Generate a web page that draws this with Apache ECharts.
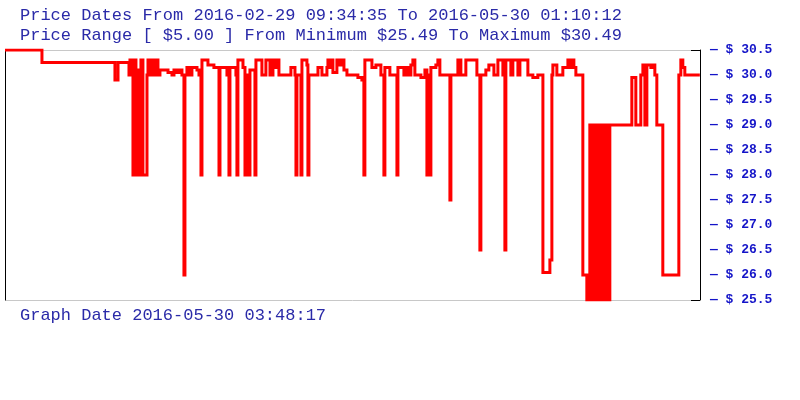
<!DOCTYPE html>
<html>
<head>
<meta charset="utf-8">
<script src="https://cdn.jsdelivr.net/npm/echarts@6/dist/echarts.min.js"></script>
<style>html,body{margin:0;padding:0;background:#fff}#c{width:800px;height:400px}</style>
</head>
<body>
<div id="c"></div>
<script>
// Days since 2016-02-29 09:34:35 at which the price changed
const dayOffsets = [
  0, 4.82, 14.34, 14.74, 16.17, 16.30, 16.56, 16.69, 16.82, 17.08,
  17.21, 17.60, 17.73, 17.99, 18.52, 18.65, 18.91, 19.04, 19.30, 19.56,
  19.95, 20.21, 21.26, 21.78, 22.04, 22.43, 22.69, 23.08, 23.34, 23.47,
  23.73, 24.12, 24.38, 25.04, 25.30, 25.56, 25.69, 26.47, 27.25, 27.91,
  28.04, 28.95, 29.21, 29.34, 30.12, 30.25, 30.38, 31.04, 31.30, 31.43,
  31.82, 31.95, 32.60, 32.73, 33.51, 34.03, 34.56, 34.95, 35.21, 35.47,
  35.73, 37.29, 37.82, 37.95, 38.08, 38.60, 38.73, 39.38, 39.51, 39.64,
  40.82, 41.34, 41.99, 42.12, 42.38, 42.51, 42.77, 43.29, 43.68, 43.94,
  44.21, 44.60, 46.03, 46.55, 46.81, 46.94, 47.86, 48.38, 49.03, 49.42,
  49.55, 50.20, 51.12, 51.25, 52.03, 52.29, 52.68, 52.94, 53.20, 53.46,
  54.25, 54.77, 55.03, 55.16, 55.42, 55.55, 56.20, 56.46, 56.72, 58.03,
  58.16, 59.07, 59.46, 60.11, 61.55, 61.94, 62.07, 62.72, 63.11, 63.77,
  64.29, 64.94, 65.20, 65.33, 65.98, 66.24, 66.90, 67.16, 68.20, 68.85,
  69.50, 70.16, 71.07, 71.33, 71.46, 71.98, 72.76, 73.42, 73.68, 73.94,
  74.20, 74.46, 75.37, 75.89, 76.28, 76.54, 76.81, 77.07, 77.33, 77.59,
  77.85, 78.11, 78.37, 78.63, 78.89, 81.76, 82.28, 82.93, 83.20, 83.46,
  83.72, 84.24, 84.50, 84.76, 85.02, 85.80, 87.89, 88.15, 88.41, 88.67,
  90.63
];
const prices = [
  30.50, 30.25, 29.90, 30.25, 30.00, 30.30, 30.00, 28.00, 30.30, 28.00,
  30.10, 28.00, 30.30, 28.00, 30.00, 30.30, 30.00, 30.30, 30.00, 30.30,
  30.00, 30.10, 30.05, 30.00, 30.10, 30.05, 30.10, 30.00, 26.00, 30.00,
  30.15, 30.00, 30.15, 30.10, 30.00, 28.00, 30.30, 30.20, 30.15, 28.00,
  30.15, 30.00, 28.00, 30.15, 30.00, 28.00, 30.30, 30.15, 28.00, 30.00,
  28.00, 30.10, 28.00, 30.30, 30.00, 30.30, 30.00, 30.30, 30.15, 30.30,
  30.00, 30.15, 30.00, 28.00, 30.00, 28.00, 30.30, 30.20, 28.00, 30.00,
  30.15, 30.00, 30.15, 30.30, 30.15, 30.30, 30.05, 30.30, 30.20, 30.30,
  30.10, 30.00, 29.95, 29.90, 28.00, 30.30, 30.15, 30.20, 30.00, 28.00,
  30.15, 30.00, 28.00, 30.15, 30.00, 30.15, 30.00, 30.20, 30.30, 30.00,
  29.95, 30.10, 28.00, 30.00, 28.00, 30.15, 30.20, 30.30, 30.00, 27.50,
  30.00, 30.30, 30.00, 30.30, 30.00, 26.50, 30.00, 30.10, 30.20, 30.00,
  30.30, 30.00, 26.50, 30.30, 30.00, 30.30, 30.00, 30.30, 30.00, 29.95,
  30.00, 26.05, 26.30, 30.00, 30.20, 30.00, 30.15, 30.30, 30.15, 30.30,
  30.15, 30.00, 26.00, 25.50, 29.00, 25.50, 29.00, 25.50, 29.00, 25.50,
  29.00, 25.50, 29.00, 25.50, 29.00, 29.95, 29.00, 30.00, 30.20, 29.00,
  30.20, 30.15, 30.20, 30.00, 29.00, 26.00, 30.00, 30.30, 30.15, 30.00,
  30.00
];
const titleLines = [
  'Price Dates From 2016-02-29 09:34:35 To 2016-05-30 01:10:12',
  'Price Range [ $5.00 ] From Minimum $25.49 To Maximum $30.49'
];
const graphDate = 'Graph Date 2016-05-30 03:48:17';
const priceMin = 25.5, priceMax = 30.5, priceStep = 0.5;
const totalDays = 90.65;

// Each price holds until the next change: build the stepped path from the change points.
const stepCoords = [];
dayOffsets.forEach((d, i) => {
  if (i > 0) stepCoords.push([d, prices[i - 1]]);
  stepCoords.push([d, prices[i]]);
});

const mono = '"Liberation Mono", "DejaVu Sans Mono", monospace';
const titleStyle = { fontFamily: mono, fontSize: 17, fontWeight: 'normal', color: '#2a2aa8' };

const chart = echarts.init(document.getElementById('c'), null, { renderer: 'canvas' });
chart.setOption({
  animation: false,
  backgroundColor: '#ffffff',
  title: [
    { text: titleLines[0], left: 20, top: 7, padding: 0, textStyle: titleStyle },
    { text: titleLines[1], left: 20, top: 27, padding: 0, textStyle: titleStyle },
    { text: graphDate, left: 20, top: 307, padding: 0, textStyle: titleStyle }
  ],
  grid: { left: 5, right: 100, top: 50, bottom: 100, containLabel: false },
  xAxis: { type: 'value', min: 0, max: totalDays, show: false },
  yAxis: [
    {
      type: 'value', position: 'right', min: priceMin, max: priceMax, interval: priceStep,
      axisLine: { show: true, onZero: false, lineStyle: { color: '#000', width: 1 } },
      axisTick: { show: true, inside: true, length: 9, customValues: [priceMin, priceMax], lineStyle: { color: '#000' } },
      splitLine: { show: true, lineStyle: { color: '#c8c8c8', width: 1 } },
      axisLabel: {
        margin: 10,
        fontFamily: mono, fontSize: 13, fontWeight: 'bold', color: '#1414c8',
        formatter: v => '\u2014 $ ' + v.toFixed(1)
      }
    },
    {
      type: 'value', position: 'left', min: priceMin, max: priceMax, interval: priceStep,
      axisLine: { show: true, onZero: false, lineStyle: { color: '#000', width: 1 } },
      axisTick: { show: false }, axisLabel: { show: false }, splitLine: { show: false }
    }
  ],
  series: [{
    type: 'lines',
    coordinateSystem: 'cartesian2d',
    xAxisIndex: 0,
    yAxisIndex: 0,
    polyline: true,
    silent: true,
    data: [{ coords: stepCoords }],
    lineStyle: { color: '#ff0000', width: 3, opacity: 1, curveness: 0, join: 'miter' },
    effect: { show: false }
  }]
});
</script>
</body>
</html>
